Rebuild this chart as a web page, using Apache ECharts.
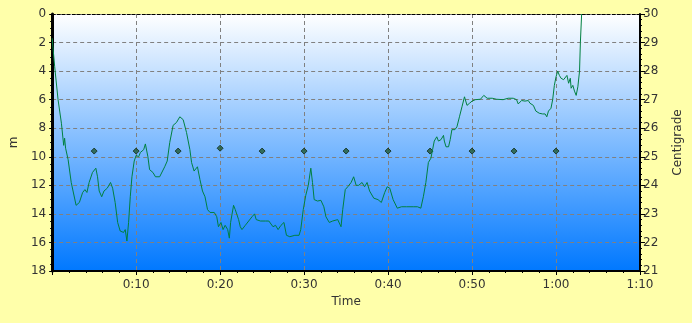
<!DOCTYPE html>
<html>
<head>
<meta charset="utf-8">
<script src="https://cdn.jsdelivr.net/npm/echarts@6/dist/echarts.min.js"></script>
<style>
html,body{margin:0;padding:0;background:#FFFFAA;}
#c{width:692px;height:323px;}
</style>
</head>
<body>
<div id="c"></div>
<script>
// Depth profile (minutes, metres)
var timeMin = [0,0.1,0.3,0.7,1.1,1.37,1.48,1.6,1.9,2.27,2.85,3.24,3.63,3.9,4.14,4.4,4.8,5.2,5.4,5.6,5.9,6.17,6.56,6.95,7.2,7.5,7.8,8.1,8.5,8.7,8.9,9.1,9.3,9.5,9.77,10.0,10.3,10.5,10.9,11.1,11.4,11.6,12.0,12.3,12.8,13.0,13.4,13.7,14.0,14.4,14.8,15.2,15.6,16.0,16.4,16.6,16.9,17.1,17.3,17.6,17.9,18.2,18.5,18.8,19.3,19.6,19.8,20.1,20.35,20.6,20.9,21.1,21.25,21.6,21.8,22.2,22.4,22.6,23.0,23.4,23.8,24.1,24.3,24.8,25.4,25.8,26.0,26.3,26.6,26.9,27.25,27.6,27.9,28.3,28.9,29.4,29.6,29.9,30.2,30.5,30.8,31.0,31.2,31.6,32.0,32.35,32.6,33.0,33.4,34.0,34.4,34.6,34.9,35.2,35.6,35.9,36.2,36.5,36.9,37.2,37.5,37.8,38.3,38.8,39.2,39.6,39.9,40.2,40.6,41.1,41.6,42.2,43.0,43.5,43.9,44.2,44.5,44.8,45.1,45.3,45.5,45.8,46.0,46.3,46.6,46.7,46.9,47.2,47.4,47.6,47.96,48.2,48.5,48.8,49.1,49.4,49.7,50.0,50.4,51.0,51.4,51.8,52.4,52.9,53.7,54.3,54.9,55.3,55.5,55.9,56.3,56.7,56.9,57.3,57.6,58.0,58.4,58.7,58.9,59.1,59.4,59.6,59.8,60.0,60.2,60.4,60.6,60.9,61.1,61.3,61.5,61.7,61.8,62.0,62.2,62.4,62.6,62.8,62.9,63.05];
var depthM = [1.7,1.8,3.7,6.0,7.65,9.2,8.7,9.4,10.2,11.8,13.4,13.2,12.5,12.3,12.5,11.8,11.1,10.8,11.4,12.4,12.8,12.4,12.2,11.8,12.2,13.2,14.6,15.2,15.3,15.1,15.9,14.6,12.8,11.4,10.3,9.9,10.0,9.7,9.5,9.1,10.0,10.9,11.1,11.4,11.4,11.4,10.7,10.3,9.0,7.8,7.6,7.2,7.4,8.3,9.5,10.4,11.0,10.9,10.7,11.6,12.4,12.8,13.7,13.9,13.9,14.2,14.9,14.6,15.1,14.8,15.1,15.7,14.6,13.4,13.7,14.4,14.9,15.1,14.8,14.5,14.2,14.0,14.4,14.5,14.5,14.5,14.6,14.9,14.8,15.1,14.8,14.6,15.5,15.6,15.5,15.5,15.1,13.7,12.7,12.0,10.8,11.8,13.0,13.1,13.05,13.5,14.2,14.6,14.5,14.4,14.9,13.7,12.3,12.1,11.8,11.4,12.0,12.0,11.8,12.1,11.8,12.4,12.9,13.0,13.2,12.5,12.1,12.2,13.0,13.6,13.5,13.5,13.5,13.5,13.6,12.8,11.8,10.4,10.1,9.5,8.9,8.6,8.9,8.8,8.5,8.9,9.3,9.3,8.8,8.1,8.1,7.9,7.2,6.5,5.8,6.4,6.25,6.1,6.0,5.97,5.7,5.9,5.9,5.97,6.0,5.9,5.9,6.0,6.3,6.06,6.1,6.06,6.25,6.4,6.8,6.95,7.0,7.0,7.2,6.8,6.6,6.0,5.0,4.4,4.0,4.3,4.5,4.6,4.7,4.3,4.85,4.5,5.2,5.0,5.4,5.7,5.1,4.0,2.0,0];
// Temperature samples (minutes, centigrade)
var tempTime = [5,10,15,20,25,30,35,40,45,50,55,60];
var tempC = [25.2,25.2,25.2,25.3,25.2,25.2,25.2,25.2,25.2,25.2,25.2,25.2];
// Tick labels
var timeTickLabels = ['', '0:10', '0:20', '0:30', '0:40', '0:50', '1:00', '1:10'];

var depthData = timeMin.map(function(t,i){return [t, depthM[i]];});
var tempData = tempTime.map(function(t,i){return [t, tempC[i]];});

var chart = echarts.init(document.getElementById('c'), null, {renderer:'canvas'});
var txt = {color:'#333333', fontFamily:'DejaVu Sans', fontSize:12};
chart.setOption({
  animation:false,
  backgroundColor:'#FFFFAA',
  grid:{left:49, right:49, top:14, bottom:52, show:true, borderWidth:0,
    backgroundColor:{type:'linear', x:0, y:0, x2:0, y2:1,
      colorStops:[{offset:0,color:'#FFFFFF'},{offset:1,color:'#0078FF'}]}},
  xAxis:[{
    type:'value', min:0, max:70, interval:10, position:'bottom',
    name:'Time', nameLocation:'middle', nameGap:24, nameTextStyle:txt,
    axisLine:{show:true, onZero:false, lineStyle:{color:'#000', width:2}},
    axisTick:{show:true, length:4, lineStyle:{color:'#000'}},
    minorTick:{show:true, splitNumber:5, length:2, lineStyle:{color:'#000'}},
    axisLabel:Object.assign({margin:8, formatter:function(v){return timeTickLabels[Math.round(v/10)];}}, txt),
    splitLine:{show:true, lineStyle:{color:'#808080', type:[4,3], width:1}}
  },{
    type:'value', min:0, max:70, position:'top',
    axisLine:{show:true, onZero:false, lineStyle:{color:'#000', type:[3,2], width:1}},
    axisTick:{show:false}, axisLabel:{show:false}, splitLine:{show:false}
  }],
  yAxis:[{
    type:'value', min:0, max:18, interval:2, inverse:true, position:'left',
    name:'m', nameLocation:'middle', nameGap:31, nameRotate:90, nameTextStyle:txt,
    axisLine:{show:true, onZero:false, lineStyle:{color:'#000', width:3}},
    axisTick:{show:true, length:3, lineStyle:{color:'#000'}},
    minorTick:{show:true, splitNumber:4, length:2, lineStyle:{color:'#000'}},
    axisLabel:Object.assign({margin:6}, txt),
    splitLine:{show:true, lineStyle:{color:'#808080', type:[4,3], width:1}}
  },{
    type:'value', min:21, max:30, interval:1, position:'right',
    name:'Centigrade', nameLocation:'middle', nameGap:32, nameRotate:90, nameTextStyle:txt,
    axisLine:{show:true, onZero:false, lineStyle:{color:'#000', width:2}},
    axisTick:{show:true, length:5, lineStyle:{color:'#000'}},
    minorTick:{show:true, splitNumber:5, length:2, lineStyle:{color:'#000'}},
    axisLabel:Object.assign({margin:3}, txt),
    splitLine:{show:false}
  }],
  series:[{
    type:'line', xAxisIndex:0, yAxisIndex:0, data:depthData,
    showSymbol:false, symbol:'none', clip:true,
    lineStyle:{color:'#008040', width:1}
  },{
    type:'scatter', xAxisIndex:0, yAxisIndex:1, data:tempData,
    symbol:'diamond', symbolSize:6,
    itemStyle:{color:'#1F5A35', borderColor:'#102818', borderWidth:1}
  }]
});
</script>
</body>
</html>
